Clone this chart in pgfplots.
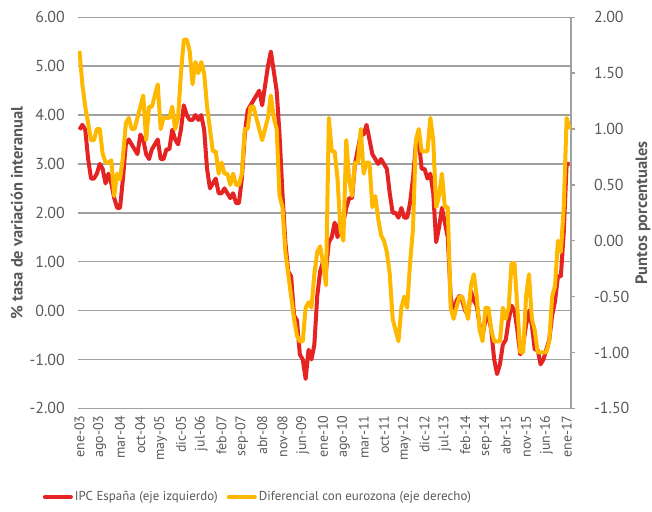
\documentclass[border=0pt]{standalone}
\usepackage{pgfplots}
\pgfplotsset{compat=1.18}
\usepackage{pgfplotstable}
\usepackage{fontspec}
\setmainfont{PT Sans}
\definecolor{ipcred}{RGB}{228,35,34}
\definecolor{difyel}{RGB}{255,184,0}
\definecolor{gridgray}{RGB}{160,160,160}
\definecolor{txtgray}{RGB}{88,89,91}

\pgfplotstableread{
ipc dif
3.7 1.7
3.8 1.4
3.7 1.2
3.1 1.05
2.7 0.9
2.7 0.9
2.8 1.0
3.0 1.0
2.9 0.78
2.6 0.7
2.8 0.7
2.6 0.72
2.3 0.4
2.1 0.6
2.1 0.55
2.7 0.75
3.4 1.05
3.5 1.1
3.4 1.0
3.3 1.0
3.2 1.1
3.6 1.2
3.5 1.3
3.2 0.9
3.1 1.2
3.3 1.2
3.4 1.3
3.5 1.4
3.1 1.0
3.1 1.1
3.3 1.1
3.3 1.1
3.7 1.2
3.5 1.0
3.4 1.1
3.7 1.5
4.2 1.8
4.0 1.8
3.9 1.7
3.9 1.4
4.0 1.6
3.9 1.5
4.0 1.6
3.7 1.5
2.9 1.2
2.5 1.0
2.6 0.8
2.7 0.8
2.4 0.6
2.4 0.7
2.5 0.6
2.4 0.6
2.3 0.5
2.4 0.6
2.2 0.5
2.2 0.5
2.7 0.6
3.6 1.0
4.1 1.0
4.2 1.2
4.3 1.2
4.4 1.1
4.5 1.0
4.2 0.9
4.6 1.0
5.0 1.1
5.3 1.3
4.9 1.1
4.5 1.0
3.6 0.4
2.4 0.3
1.4 -0.1
0.8 -0.3
0.7 -0.5
-0.1 -0.7
-0.2 -0.85
-0.9 -0.9
-1.0 -0.9
-1.4 -0.6
-0.8 -0.55
-1.0 -0.6
-0.7 -0.3
0.3 -0.1
0.8 -0.05
1.0 -0.2
0.8 -0.4
1.4 1.1
1.5 0.8
1.8 0.8
1.5 0.55
1.9 0.1
1.8 0.0
2.1 0.9
2.3 0.55
2.3 0.4
3.0 0.7
3.3 0.7
3.6 1.0
3.6 0.6
3.8 0.7
3.5 0.7
3.2 0.3
3.1 0.4
3.0 0.2
3.1 0.05
3.0 0.0
2.9 -0.1
2.4 -0.3
2.0 -0.7
2.0 -0.8
1.9 -0.9
2.1 -0.6
1.9 -0.5
1.9 -0.6
2.2 -0.2
2.7 0.1
3.4 0.9
3.5 1.0
2.9 0.8
2.9 0.8
2.7 0.8
2.8 1.1
2.4 0.9
1.4 0.3
1.7 0.4
2.1 0.6
1.8 0.3
1.5 0.3
0.3 -0.6
-0.1 -0.7
0.2 -0.6
0.3 -0.5
0.2 -0.5
0.0 -0.6
-0.1 -0.7
0.4 -0.4
0.2 -0.3
0.1 -0.5
-0.3 -0.8
-0.5 -0.9
-0.2 -0.6
-0.1 -0.6
-0.4 -0.8
-1.0 -0.9
-1.3 -0.9
-1.1 -0.9
-0.7 -0.6
-0.6 -0.7
-0.2 -0.6
0.1 -0.2
0.0 -0.2
-0.4 -0.6
-0.9 -1.0
-0.7 -1.0
-0.3 -0.5
0.0 -0.3
-0.3 -0.7
-0.8 -0.8
-0.8 -1.0
-1.1 -1.0
-1.0 -1.0
-0.8 -1.0
-0.6 -0.9
-0.1 -0.5
0.2 -0.4
0.7 0.0
0.7 -0.1
1.6 0.3
3.0 1.1
3.0 1.0
}\datatable

\begin{document}
\begin{tikzpicture}
\useasboundingbox (0,0) rectangle (652bp,512bp);
\begin{axis}[
  at={(78bp,103.7bp)}, anchor=south west,
  width=493bp, height=391bp, scale only axis,
  xmin=-0.5, xmax=169.5, ymin=-2, ymax=6,
  axis line style={draw=none},
  major tick length=0pt,
  ytick={-2,-1,0,1,2,3,4,5,6},
  yticklabels={-2.00,-1.00,0.00,1.00,2.00,3.00,4.00,5.00,6.00},
  ymajorgrids, grid style={gridgray, line width=1.5bp},
  xtick={0,7,...,168},
  xticklabels={ene-03,ago-03,mar-04,oct-04,may-05,dic-05,jul-06,feb-07,sep-07,abr-08,nov-08,jun-09,ene-10,ago-10,mar-11,oct-11,may-12,dic-12,jul-13,feb-14,sep-14,abr-15,nov-15,jun-16,ene-17},
  x tick label style={yshift=-7bp, rotate=90, anchor=east, inner sep=0pt, font=\fontsize{14}{15}\selectfont, text=txtgray},
  y tick label style={xshift=-13bp, anchor=east, inner sep=0pt, font=\fontsize{16}{18}\selectfont, text=txtgray},
  ylabel={\% tasa de variación interanual},
  every axis y label/.style={at={(axis description cs:-0.124,0.5)}, rotate=90, anchor=center, font=\bfseries\fontsize{16.5}{18}\selectfont, text=txtgray},
  legend style={at={(axis description cs:0.365,-0.227)}, anchor=center, draw=none, fill=none, font=\fontsize{13}{15}\selectfont, text=txtgray, legend columns=2, /tikz/every even column/.append style={column sep=7bp}},
  legend image code/.code={\draw[#1, line cap=round] (0bp,0bp) -- (26bp,0bp);},
]
\addplot[ipcred, line width=4bp, line join=round] table[x expr=\coordindex, y=ipc] {\datatable};
\addlegendentry{IPC España (eje izquierdo)}
\addlegendimage{difyel, line width=4bp}
\addlegendentry{Diferencial con eurozona (eje derecho)}
\end{axis}
\begin{axis}[
  at={(78bp,103.7bp)}, anchor=south west,
  width=493bp, height=391bp, scale only axis,
  xmin=-0.5, xmax=169.5, ymin=-1.5, ymax=2,
  axis x line=none,
  axis y line*=right,
  axis line style={gridgray, line width=1.5bp},
  ytick={-1.5,-1,-0.5,0,0.5,1,1.5,2},
  yticklabels={-1.50,-1.00,-0.50,0.00,0.50,1.00,1.50,2.00},
  tick align=outside, major tick length=4bp,
  ytick style={gridgray, line width=1.5bp},
  y tick label style={xshift=19bp, anchor=west, inner sep=0pt, font=\fontsize{16}{18}\selectfont, text=txtgray},
  ylabel={Puntos porcentuales},
  every axis y label/.style={at={(axis description cs:1.146,0.5)}, rotate=90, anchor=center, font=\bfseries\fontsize{16.5}{18}\selectfont, text=txtgray},
]
\addplot[difyel, line width=4bp, line join=round] table[x expr=\coordindex, y=dif] {\datatable};
\end{axis}
\end{tikzpicture}
\end{document}
